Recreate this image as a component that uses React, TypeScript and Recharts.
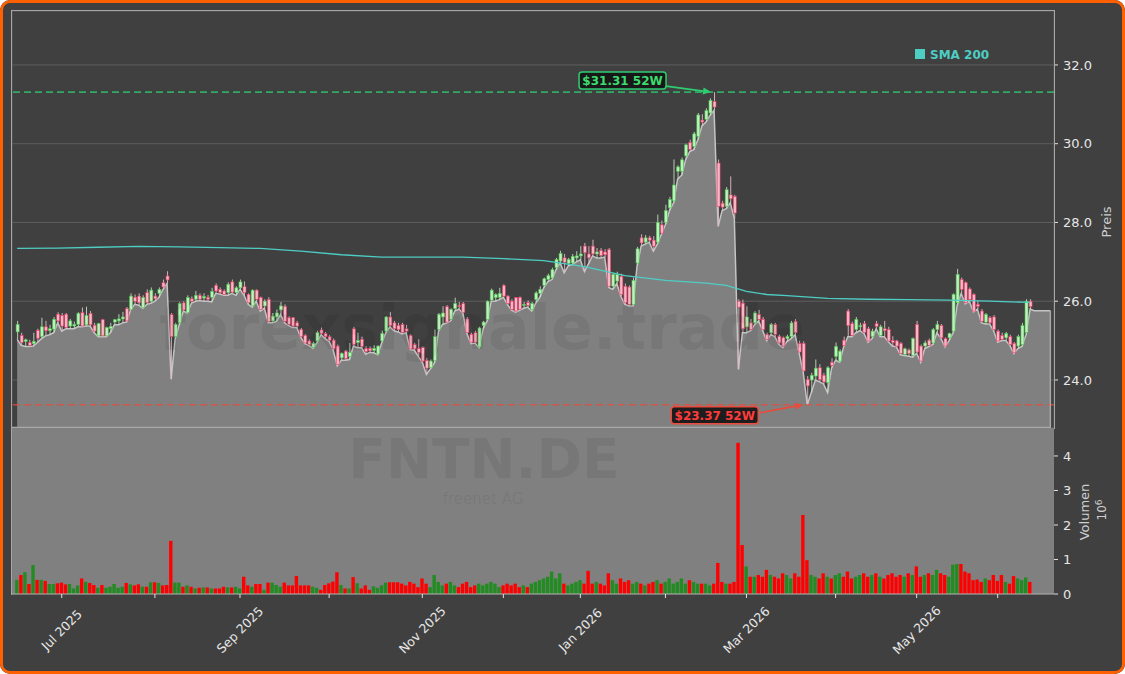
import React from 'react';
import {
  ComposedChart, Bar, Area, Line, XAxis, YAxis, CartesianGrid,
  ReferenceLine, ReferenceDot, Cell,
} from 'recharts';

// ---------- DATA ----------
// trading-day index 0 = 16 Jun 2025 ... 250 = 11 Jun 2026
// [open, high, low, close]
const ohlc: number[][] = [
  [25.22,25.50,25.03,25.41],[25.13,25.20,24.88,24.95],[24.98,25.05,24.85,25.02],[24.95,25.02,24.85,24.88],[24.92,25.20,24.86,24.98],
  [25.26,25.30,24.95,25.06],[25.10,25.58,25.05,25.35],[25.35,25.50,25.12,25.25],[25.25,25.40,25.15,25.30],[25.29,25.60,25.20,25.54],
  [25.67,25.72,25.45,25.50],[25.64,25.70,25.24,25.37],[25.67,25.70,25.30,25.33],[25.37,25.55,25.30,25.50],[25.37,25.48,25.30,25.41],
  [25.41,25.72,25.35,25.69],[25.71,25.84,25.35,25.37],[25.40,25.86,25.37,25.64],[25.69,25.75,25.37,25.40],[25.39,25.45,25.20,25.24],
  [25.12,25.45,25.10,25.43],[25.53,25.55,25.10,25.12],[25.12,25.35,25.10,25.33],[25.30,25.45,25.20,25.36],[25.47,25.55,25.40,25.53],
  [25.50,25.67,25.40,25.55],[25.55,25.73,25.45,25.60],[25.81,25.85,25.47,25.50],[25.79,26.20,25.78,26.13],[26.10,26.17,25.92,26.00],
  [26.13,26.20,25.90,25.96],[25.84,26.15,25.82,26.09],[26.22,26.30,25.92,25.96],[26.00,26.35,25.95,26.28],[26.13,26.20,26.00,26.06],
  [26.20,26.35,26.10,26.30],[26.47,26.55,26.30,26.36],[26.64,26.76,26.45,26.54],[25.66,25.70,24.02,25.10],[25.10,25.45,25.05,25.41],
  [25.45,25.98,25.40,25.94],[25.96,26.00,25.75,25.78],[25.71,26.15,25.70,26.09],[26.06,26.12,25.95,26.00],[26.05,26.26,26.00,26.15],
  [26.15,26.20,26.02,26.05],[26.08,26.20,26.00,26.12],[26.10,26.16,26.00,26.05],[26.10,26.34,25.98,26.25],[26.40,26.45,26.20,26.26],
  [26.30,26.35,26.18,26.22],[26.26,26.30,26.15,26.17],[26.22,26.48,26.15,26.43],[26.49,26.55,26.20,26.23],[26.22,26.38,26.15,26.34],
  [26.34,26.55,26.30,26.49],[26.37,26.50,26.15,26.22],[26.17,26.20,25.92,25.96],[25.88,26.30,25.85,26.28],[26.28,26.30,26.00,26.05],
  [26.09,26.12,25.75,25.79],[25.88,26.05,25.82,26.00],[26.04,26.10,25.45,25.48],[25.50,25.70,25.45,25.62],[25.60,25.79,25.49,25.70],
  [25.78,25.98,25.66,25.88],[25.87,25.92,25.45,25.49],[25.58,25.62,25.38,25.41],[25.58,25.60,25.33,25.37],[25.45,25.50,25.33,25.37],
  [25.28,25.32,25.08,25.11],[25.13,25.16,24.92,24.94],[24.99,25.03,24.88,24.90],[24.82,24.97,24.80,24.93],[24.99,25.25,24.95,25.20],
  [25.27,25.33,25.15,25.18],[25.18,25.22,25.05,25.10],[25.10,25.14,24.98,25.01],[25.01,25.05,24.76,24.79],[24.86,24.90,24.36,24.39],
  [24.56,24.70,24.50,24.67],[24.73,24.76,24.50,24.54],[24.60,24.94,24.52,24.70],[25.30,25.35,24.86,24.90],[24.95,25.20,24.82,25.00],
  [25.03,25.10,24.82,24.85],[24.80,24.86,24.65,24.72],[24.80,24.85,24.70,24.74],[24.75,24.88,24.69,24.80],[24.66,24.88,24.64,24.86],
  [24.99,25.25,24.95,25.18],[25.24,25.62,25.20,25.60],[25.60,25.72,25.35,25.38],[25.45,25.50,25.25,25.30],[25.38,25.45,25.22,25.28],
  [25.41,25.45,25.17,25.20],[25.30,25.40,25.20,25.24],[25.13,25.16,24.77,24.79],[24.90,24.94,24.76,24.79],[24.80,25.03,24.60,24.70],
  [24.82,24.85,24.45,24.48],[24.50,24.56,24.14,24.30],[24.31,24.52,24.28,24.48],[24.50,25.28,24.44,25.10],[25.28,25.70,25.25,25.66],
  [25.60,25.87,25.41,25.70],[25.86,25.90,25.45,25.47],[25.54,25.82,25.50,25.79],[25.81,26.09,25.75,25.94],[25.89,25.98,25.80,25.86],
  [25.94,25.98,25.70,25.72],[25.55,25.60,25.18,25.20],[25.16,25.20,24.92,24.96],[25.20,25.25,24.94,24.96],[24.84,25.35,24.82,25.32],
  [25.38,25.50,25.30,25.47],[25.54,26.02,25.50,26.00],[26.03,26.32,26.00,26.28],[26.09,26.20,26.00,26.17],[26.10,26.34,26.04,26.20],
  [26.40,26.43,26.10,26.13],[26.13,26.15,25.92,25.94],[26.00,26.05,25.77,25.79],[26.09,26.10,25.72,25.75],[26.09,26.12,25.77,25.79],
  [25.90,25.98,25.82,25.92],[25.97,26.02,25.85,25.89],[25.79,25.98,25.75,25.94],[26.04,26.25,25.95,26.21],[26.20,26.38,26.10,26.30],
  [26.40,26.60,26.35,26.57],[26.55,26.70,26.50,26.65],[26.59,26.85,26.55,26.80],[26.85,27.10,26.80,27.06],[27.02,27.28,26.98,27.21],
  [27.10,27.20,26.72,26.99],[26.96,27.10,26.90,27.06],[26.97,27.20,26.93,27.14],[27.10,27.27,27.00,27.15],[27.15,27.40,27.05,27.20],
  [27.40,27.48,26.75,27.23],[27.20,27.40,26.95,27.10],[27.40,27.56,27.15,27.20],[27.20,27.35,27.10,27.25],[27.29,27.35,27.10,27.16],
  [27.25,27.32,27.12,27.18],[27.31,27.35,26.35,26.38],[26.38,26.72,26.30,26.68],[26.51,26.75,26.45,26.68],[26.63,26.70,26.12,26.17],
  [26.38,26.45,25.92,25.96],[26.36,26.40,25.88,25.92],[25.92,26.60,25.88,26.53],[26.97,27.38,26.90,27.33],[27.61,27.70,27.40,27.48],
  [27.50,27.68,27.45,27.61],[27.61,27.66,27.50,27.55],[27.55,27.65,27.27,27.40],[27.50,28.20,27.45,28.00],[27.94,28.05,27.70,27.73],
  [28.00,28.45,27.95,28.30],[28.37,28.65,28.30,28.58],[28.55,29.60,28.50,28.95],[29.30,29.45,29.10,29.41],[29.30,29.65,29.20,29.59],
  [29.69,30.00,29.60,29.97],[30.03,30.10,29.80,29.85],[29.93,30.30,29.85,30.25],[30.18,30.78,30.10,30.73],[30.60,30.75,30.45,30.55],
  [30.62,30.90,30.55,30.84],[30.78,31.15,30.72,31.10],[31.07,31.31,30.85,30.93],[29.51,29.60,27.90,28.41],[28.49,28.55,28.30,28.39],
  [28.41,28.90,28.35,28.83],[28.70,29.17,28.50,28.60],[28.66,28.70,28.10,28.24],[26.00,26.05,24.27,25.85],[25.95,26.04,25.20,25.30],
  [25.35,25.87,25.20,25.60],[25.45,25.55,25.25,25.28],[25.45,25.75,25.40,25.70],[25.66,25.78,25.50,25.54],[25.54,25.60,25.25,25.28],
  [25.16,25.20,25.00,25.03],[25.20,25.45,25.15,25.41],[25.41,25.45,25.10,25.16],[25.11,25.15,24.90,24.94],[25.07,25.10,24.82,24.86],
  [25.05,25.15,24.98,25.10],[25.11,25.50,25.05,25.45],[25.49,25.55,25.15,25.20],[24.93,25.00,24.68,24.71],[24.93,24.98,24.20,24.23],
  [24.01,24.10,23.37,23.85],[24.00,24.18,23.68,24.12],[24.10,24.52,24.00,24.30],[24.31,24.40,23.95,24.01],[24.12,24.18,23.90,23.95],
  [23.93,24.35,23.68,24.31],[24.45,24.55,24.30,24.37],[24.60,24.95,24.50,24.85],[24.48,24.78,24.45,24.73],[25.01,25.10,24.85,24.88],
  [25.75,25.80,25.10,25.38],[25.43,25.48,25.10,25.13],[25.28,25.60,25.20,25.54],[25.35,25.45,25.25,25.38],[25.43,25.50,25.18,25.21],
  [25.30,25.35,24.96,24.99],[25.10,25.30,25.05,25.24],[25.43,25.50,25.30,25.36],[25.13,25.40,25.10,25.35],[25.30,25.50,25.10,25.25],
  [25.28,25.35,24.97,24.99],[25.00,25.11,24.86,24.95],[24.99,25.02,24.84,24.86],[24.93,24.96,24.64,24.67],[24.65,24.82,24.62,24.79],
  [24.76,24.80,24.60,24.67],[24.62,25.08,24.58,25.05],[25.41,25.50,24.68,24.71],[24.86,24.90,24.45,24.48],[24.86,25.00,24.80,24.94],
  [25.01,25.05,24.85,24.88],[24.94,25.32,24.90,25.28],[25.28,25.50,25.20,25.41],[25.38,25.42,25.05,25.07],[25.05,25.08,24.84,24.86],
  [25.07,25.20,25.00,25.18],[25.24,26.20,25.20,26.17],[25.96,26.82,25.90,26.68],[26.55,26.60,26.20,26.30],[26.47,26.50,25.93,25.96],
  [26.31,26.35,26.00,26.04],[26.17,26.20,25.73,25.75],[25.92,26.00,25.80,25.87],[25.75,25.80,25.45,25.49],[25.47,25.70,25.42,25.66],
  [25.58,25.62,25.42,25.45],[25.60,25.65,25.25,25.28],[25.24,25.28,24.96,24.99],[25.13,25.20,25.00,25.03],[25.07,25.22,25.00,25.18],
  [25.10,25.15,24.88,24.90],[24.93,24.96,24.67,24.69],[24.86,25.15,24.80,25.10],[24.90,25.45,24.85,25.38],[25.21,26.05,25.15,26.00],
  [26.00,26.05,25.80,25.86],
];

// volume in millions, same index as ohlc
const volumesM: number[] = [
  0.41,0.55,0.63,0.29,0.84,0.41,0.41,0.38,0.29,0.29,
  0.31,0.33,0.28,0.29,0.16,0.25,0.45,0.35,0.32,0.26,
  0.18,0.26,0.18,0.21,0.29,0.18,0.21,0.32,0.28,0.25,
  0.28,0.21,0.21,0.34,0.34,0.32,0.25,0.26,1.54,0.33,
  0.33,0.21,0.25,0.21,0.16,0.18,0.19,0.19,0.16,0.16,
  0.16,0.21,0.19,0.19,0.21,0.16,0.50,0.25,0.21,0.29,
  0.29,0.12,0.33,0.33,0.26,0.21,0.33,0.25,0.25,0.52,
  0.25,0.25,0.25,0.21,0.18,0.12,0.26,0.31,0.36,0.63,
  0.26,0.16,0.16,0.49,0.31,0.16,0.25,0.12,0.22,0.18,
  0.25,0.33,0.34,0.34,0.34,0.30,0.25,0.35,0.30,0.20,
  0.45,0.30,0.20,0.55,0.35,0.25,0.30,0.35,0.25,0.20,
  0.30,0.35,0.20,0.25,0.30,0.25,0.30,0.35,0.30,0.20,
  0.25,0.30,0.25,0.30,0.20,0.25,0.20,0.30,0.35,0.40,
  0.45,0.50,0.65,0.45,0.60,0.30,0.25,0.30,0.35,0.40,
  0.30,0.67,0.30,0.35,0.30,0.25,0.60,0.40,0.30,0.45,
  0.35,0.40,0.30,0.35,0.30,0.25,0.30,0.35,0.40,0.30,
  0.35,0.45,0.30,0.35,0.45,0.30,0.40,0.35,0.30,0.30,
  0.30,0.25,0.30,0.90,0.35,0.30,0.30,0.35,4.38,1.42,
  0.80,0.50,0.50,0.55,0.50,0.70,0.55,0.50,0.45,0.60,
  0.55,0.45,0.60,0.50,2.29,0.98,0.55,0.50,0.45,0.60,
  0.50,0.45,0.55,0.60,0.50,0.65,0.45,0.50,0.55,0.60,
  0.50,0.55,0.60,0.50,0.45,0.55,0.60,0.50,0.55,0.50,
  0.60,0.55,0.80,0.50,0.55,0.60,0.55,0.70,0.60,0.55,
  0.50,0.85,0.87,0.87,0.65,0.60,0.40,0.42,0.35,0.45,
  0.40,0.55,0.38,0.55,0.35,0.30,0.52,0.45,0.40,0.48,0.35,
];

// SMA 200 read at sampled indices
const smaIndex = [0, 10, 20, 30, 40, 50, 60, 70, 80, 90, 100, 110, 120, 130, 140, 150, 160, 170, 175, 180, 185, 190, 200, 210, 220, 230, 240, 250];
const smaValue = [27.34, 27.35, 27.37, 27.39, 27.38, 27.36, 27.34, 27.27, 27.18, 27.12, 27.12, 27.12, 27.08, 27.03, 26.88, 26.65, 26.53, 26.46, 26.40, 26.25, 26.17, 26.14, 26.07, 26.05, 26.04, 26.03, 26.00, 25.97];

// area continues flat after the last candle
const tailIndex = [251, 252, 253, 254, 255];
const tailArea = [25.76, 25.76, 25.76, 25.76, 25.76];

const monthTickIdx = [11, 34, 55, 77, 100, 120, 139, 160, 180, 202, 222, 242];
const monthTickLabels = ['Jul 2025', '', 'Sep 2025', '', 'Nov 2025', '', 'Jan 2026', '', 'Mar 2026', '', 'May 2026', ''];
const priceTicks = [24, 26, 28, 30, 32];
const volumeTicks = [0, 1, 2, 3, 4];

const high52 = { index: 172, value: 31.31, label: '$31.31 52W' };
const low52 = { index: 195, value: 23.37, label: '$23.37 52W' };

// ---------- STYLE ----------
const FONT = '"DejaVu Sans", sans-serif';
const BG = '#404040';
const X_MIN = -1.27;
const X_MAX = 255.9;
const P_MIN = 22.78;
const P_MAX = 33.37;
const V_MAX = 4.81;
const SMA_COLOR = '#4ecdc4';
const HIGH_COLOR = '#2ecc71';
const LOW_COLOR = '#e74c3c';

const smaMap = new Map<number, number>();
smaIndex.forEach((k, j) => smaMap.set(k, smaValue[j]));

const priceData: any[] = ohlc.map(([o, h, l, c], i) => ({
  i, o, h, l, c, range: [l, h], area: l, sma: smaMap.has(i) ? smaMap.get(i) : null,
}));
tailIndex.forEach((k, j) => priceData.push({ i: k, area: tailArea[j], sma: null }));

const volData = volumesM.map((v, i) => ({ i, v, up: ohlc[i][3] >= ohlc[i][0] }));

const Candle = (props: any) => {
  const { x, y, width, height, payload } = props;
  if (!payload || payload.o == null) return null;
  const { o, h, l, c } = payload;
  const up = c >= o;
  const top = Math.min(y, y + height);
  const hh = Math.abs(height);
  const span = h - l || 1;
  const yAt = (v: number) => top + ((h - v) / span) * hh;
  const cx = x + width / 2;
  const bTop = yAt(Math.max(o, c));
  const bBot = yAt(Math.min(o, c));
  return (
    <g>
      <line x1={cx} x2={cx} y1={top} y2={top + hh} stroke={up ? '#c2dcc2' : '#e4bcc6'} strokeWidth={0.9} />
      <rect x={x} y={bTop} width={width} height={Math.max(bBot - bTop, 1)}
        fill={up ? '#c4ecc4' : '#f6b8c6'} stroke={up ? '#46c846' : '#e63a64'} strokeWidth={0.6} />
    </g>
  );
};

const Arrow = ({ x1, y1, x2, y2, color }: any) => {
  const dx = x2 - x1, dy = y2 - y1;
  const len = Math.hypot(dx, dy) || 1;
  const ux = dx / len, uy = dy / len;
  const hl = 8, hw = 3.5;
  const bx = x2 - ux * hl, by = y2 - uy * hl;
  const pts = `${x2},${y2} ${bx - uy * hw},${by + ux * hw} ${bx + uy * hw},${by - ux * hw}`;
  return (
    <g>
      <line x1={x1} y1={y1} x2={bx} y2={by} stroke={color} strokeWidth={1.8} />
      <polygon points={pts} fill={color} />
    </g>
  );
};

const makeNote = (label: string, color: string, textColor: string, boxDx: number, boxDy: number, tail: number[], tip: number[]) =>
  (props: any) => {
    const { cx, cy } = props;
    if (cx == null || cy == null) return null;
    const w = 87, h = 17;
    return (
      <g>
        <Arrow x1={cx + tail[0]} y1={cy + tail[1]} x2={cx + tip[0]} y2={cy + tip[1]} color={color} />
        <rect x={cx + boxDx} y={cy + boxDy} width={w} height={h} rx={3} ry={3} fill="#151515" fillOpacity={0.92} stroke={color} strokeWidth={1.5} />
        <text x={cx + boxDx + w / 2} y={cy + boxDy + h / 2} dy="0.36em" textAnchor="middle"
          fontFamily={FONT} fontSize={12} fontWeight="bold" fill={textColor}>{label}</text>
      </g>
    );
  };

const MonthTick = (props: any) => {
  const { x, y, index } = props;
  const label = monthTickLabels[index];
  if (!label) return null;
  return (
    <g transform={`translate(${x},${y + 30}) rotate(-45)`}>
      <text x={0} y={0} dy="0.35em" textAnchor="middle" fontFamily={FONT} fontSize={12.5} fill="#e6e6e6">{label}</text>
    </g>
  );
};

export default function App() {
  const axisTick = { fill: '#e6e6e6', fontSize: 13, fontFamily: FONT };
  return (
    <div style={{ position: 'absolute', left: 0, top: 0, width: 1125, height: 674, background: BG, overflow: 'hidden', borderRadius: 10 }}>
      {/* price panel */}
      <div style={{ position: 'absolute', left: 0, top: 0 }}>
        <ComposedChart width={1125} height={440} data={priceData} margin={{ top: 11, right: 0, left: 12, bottom: 12 }}>
          <CartesianGrid stroke="#5d5d5d" strokeWidth={1} />
          <XAxis type="number" dataKey="i" domain={[X_MIN, X_MAX]} ticks={monthTickIdx} allowDataOverflow
            height={0} tick={false} axisLine={false} tickLine={false} />
          <YAxis orientation="right" type="number" domain={[P_MIN, P_MAX]} ticks={priceTicks} allowDataOverflow
            width={71} axisLine={false} tickSize={4} tickMargin={5} tickLine={{ stroke: '#e0e0e0' }}
            tick={axisTick} tickFormatter={(v: number) => v.toFixed(1)} />
          <Area type="linear" dataKey="area" stroke="#c4c4c4" strokeWidth={1.5} fill="#808080" fillOpacity={1}
            isAnimationActive={false} dot={false} activeDot={false} />
          <Line type="linear" dataKey="sma" stroke={SMA_COLOR} strokeWidth={1.3} dot={false} activeDot={false}
            connectNulls isAnimationActive={false} />
          <Bar dataKey="range" barSize={3} shape={Candle} isAnimationActive={false} />
          <ReferenceLine y={high52.value} stroke={HIGH_COLOR} strokeOpacity={0.75} strokeWidth={1.6} strokeDasharray="7 4" />
          <ReferenceLine y={low52.value} stroke={LOW_COLOR} strokeOpacity={0.75} strokeWidth={1.6} strokeDasharray="7 4" />
          <ReferenceLine segment={[{ x: X_MIN, y: P_MIN }, { x: tailIndex[tailIndex.length - 1], y: P_MIN }]} stroke="#a8a8a8" strokeWidth={2.5} />
          <ReferenceLine segment={[{ x: tailIndex[tailIndex.length - 1], y: P_MIN }, { x: tailIndex[tailIndex.length - 1], y: tailArea[tailArea.length - 1] }]} stroke="#a8a8a8" strokeWidth={1.5} />
          <ReferenceDot x={high52.index} y={high52.value} r={0}
            shape={makeNote(high52.label, HIGH_COLOR, '#3ddc6f', -135, -20, [-48, -6], [-3, 0])} />
          <ReferenceDot x={low52.index} y={low52.value} r={0}
            shape={makeNote(low52.label, LOW_COLOR, '#ff3b3b', -136, 2, [-47, 8], [-4, 0])} />
        </ComposedChart>
      </div>

      {/* volume panel */}
      <div style={{ position: 'absolute', left: 0, top: 428 }}>
        <ComposedChart width={1125} height={246} data={volData} margin={{ top: 0, right: 0, left: 12, bottom: 0 }}>
          <CartesianGrid fill="#808080" stroke="none" horizontal={false} vertical={false} />
          <XAxis type="number" dataKey="i" domain={[X_MIN, X_MAX]} ticks={monthTickIdx} allowDataOverflow interval={0}
            height={80} axisLine={{ stroke: '#b4b4b4' }} tickSize={4} tickLine={{ stroke: '#e0e0e0' }} tick={<MonthTick />} />
          <YAxis orientation="right" type="number" domain={[0, V_MAX]} ticks={volumeTicks} allowDataOverflow
            width={71} axisLine={false} tickSize={4} tickMargin={5} tickLine={{ stroke: '#e0e0e0' }}
            tick={axisTick} tickFormatter={(v: number) => String(v)} />
          <Bar dataKey="v" barSize={3.4} isAnimationActive={false}>
            {volData.map((d) => <Cell key={d.i} fill={d.up ? '#228b22' : '#ff0000'} />)}
          </Bar>
        </ComposedChart>
      </div>

      {/* frames */}
      <div style={{ position: 'absolute', left: 11, top: 10, width: 1044, height: 419, borderTop: '1px solid #a6a6a6', borderLeft: '1px solid #a6a6a6', borderRight: '1px solid #a6a6a6', boxSizing: 'border-box', pointerEvents: 'none' }} />
      <div style={{ position: 'absolute', left: 11, top: 428, width: 1, height: 167, background: '#a6a6a6' }} />

      {/* texts: watermark, titles, legend */}
      <svg width={1125} height={674} style={{ position: 'absolute', left: 0, top: 0, pointerEvents: 'none' }}>
        <text x={482} y={349} textAnchor="middle" fontFamily={FONT} fontWeight="bold" fontSize={62} fill="#000" fillOpacity={0.07}>forexsignale.trade</text>
        <text x={484} y={478} textAnchor="middle" fontFamily={FONT} fontWeight="bold" fontSize={55} fill="#000" fillOpacity={0.07}>FNTN.DE</text>
        <text x={483} y={504} textAnchor="middle" fontFamily={FONT} fontSize={15} fill="#000" fillOpacity={0.08}>freenet AG</text>
        <text transform="translate(1106,222) rotate(-90)" textAnchor="middle" dy="0.35em" fontFamily={FONT} fontSize={13} fill="#cfcfcf">Preis</text>
        <text transform="translate(1084,512) rotate(-90)" textAnchor="middle" dy="0.35em" fontFamily={FONT} fontSize={13} fill="#cfcfcf">Volumen</text>
        <text transform="translate(1102,510) rotate(-90)" textAnchor="middle" dy="0.35em" fontFamily={FONT} fontSize={12} fill="#cfcfcf">10<tspan dy="-0.5em" fontSize={9}>6</tspan></text>
        <rect x={915} y={49} width={10} height={10} fill={SMA_COLOR} />
        <text x={930} y={58.5} fontFamily={FONT} fontWeight="bold" fontSize={12} fill={SMA_COLOR}>SMA 200</text>
      </svg>

      {/* outer orange border */}
      <div style={{ position: 'absolute', left: 0, top: 0, width: 1125, height: 674, border: '3px solid #ff6000', borderRadius: 10, boxSizing: 'border-box', pointerEvents: 'none' }} />
    </div>
  );
}
